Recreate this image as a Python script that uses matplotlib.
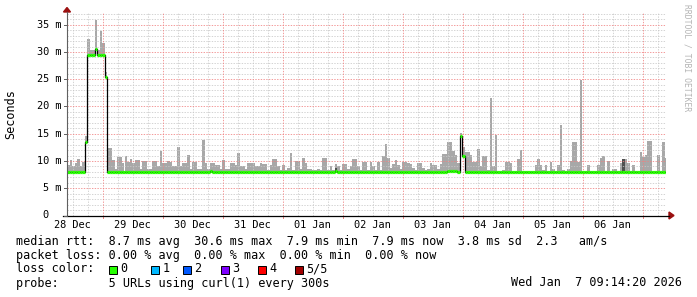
import numpy as np
import matplotlib
matplotlib.use("Agg")
import matplotlib.pyplot as plt
from matplotlib.patches import Polygon, Rectangle
from matplotlib.lines import Line2D

W, H = 697, 297

# --- data: hourly samples, first bin starts 28 Dec ~09:48 (hours since 28 Dec 00:00)
t_start = 9.8
day_labels = ["28 Dec", "29 Dec", "30 Dec", "31 Dec", "01 Jan",
              "02 Jan", "03 Jan", "04 Jan", "05 Jan", "06 Jan"]
y_ticks = [0, 5, 10, 15, 20, 25, 30, 35]
y_tick_labels = ["0  ", "5 m", "10 m", "15 m", "20 m", "25 m", "30 m", "35 m"]

# median rtt per hour (ms)
median_rtt = [
    7.9, 7.9, 7.9, 7.9, 7.9, 7.9, 7.9, 13.5, 29.4, 29.4, 29.4, 30.6, 29.4, 29.4, 29.4, 25.5, 7.9, 7.9, 7.9, 7.9,
    7.9, 7.9, 7.9, 8.0, 7.9, 7.9, 7.9, 7.9, 8.0, 7.9, 7.9, 7.9, 7.9, 7.9, 7.9, 7.9, 7.9, 8.0, 7.9, 7.9,
    7.9, 7.9, 7.9, 7.9, 7.9, 7.9, 7.9, 7.9, 7.9, 7.9, 7.9, 7.9, 8.0, 7.9, 7.9, 7.9, 8.0, 8.1, 7.9, 7.9,
    7.9, 8.0, 7.9, 7.9, 7.9, 7.9, 7.9, 7.9, 8.0, 7.9, 7.9, 7.9, 7.9, 7.9, 8.0, 8.0, 7.9, 7.9, 7.9, 7.9,
    7.9, 7.9, 8.0, 7.9, 7.9, 7.9, 7.9, 8.0, 7.9, 7.9, 7.9, 7.9, 7.9, 7.9, 7.9, 7.9, 8.0, 7.9, 7.9, 7.9,
    7.9, 7.9, 7.9, 7.9, 7.9, 7.9, 8.0, 8.1, 7.9, 7.9, 7.9, 7.9, 7.9, 7.9, 8.0, 7.9, 7.9, 7.9, 7.9, 7.9,
    8.0, 7.9, 7.9, 7.9, 7.9, 7.9, 7.9, 8.0, 8.0, 7.9, 7.9, 7.9, 7.9, 7.9, 8.0, 8.0, 7.9, 7.9, 7.9, 7.9,
    7.9, 7.9, 7.9, 7.9, 8.0, 7.9, 7.9, 7.9, 7.9, 8.0, 8.0, 8.0, 8.1, 8.2, 8.2, 8.1, 7.9, 14.5, 11.0, 7.9,
    7.9, 7.9, 7.9, 7.9, 7.9, 8.0, 7.9, 7.9, 7.9, 7.9, 8.0, 7.9, 7.9, 7.9, 7.9, 7.9, 7.9, 8.0, 7.9, 7.9,
    7.9, 7.9, 7.9, 7.9, 7.9, 7.9, 7.9, 7.9, 8.0, 7.9, 7.9, 7.9, 7.9, 7.9, 7.9, 7.9, 7.9, 8.0, 7.9, 7.9,
    7.9, 7.9, 7.9, 8.0, 7.9, 7.9, 7.9, 7.9, 7.9, 7.9, 7.9, 7.9, 7.9, 7.9, 8.0, 7.9, 7.9, 7.9, 7.9, 7.9,
    7.9, 7.9, 8.0, 8.0, 7.9, 7.9, 7.9, 7.9, 7.9, 7.9, 7.9, 7.9, 7.9, 7.9, 7.9, 7.9, 7.9, 7.9, 7.9, 7.9,
]

# top of the smoke (max ping) per hour (ms)
smoke_max = [
    9.2, 10.2, 9.0, 9.6, 10.3, 9.0, 9.8, 14.6, 32.4, 30.4, 30.4, 35.9, 30.4, 33.9, 31.7, 26.3, 12.3, 12.3, 10.2, 8.6,
    10.8, 10.8, 9.6, 10.9, 9.9, 10.3, 9.7, 10.1, 10.1, 8.5, 10.0, 10.0, 8.5, 8.5, 10.0, 10.0, 9.0, 11.9, 9.7, 9.7,
    10.0, 9.8, 9.0, 9.0, 12.6, 9.0, 9.6, 9.6, 11.1, 8.5, 9.9, 9.9, 8.5, 8.5, 13.9, 9.7, 8.5, 9.6, 9.6, 9.3,
    9.3, 8.5, 10.1, 8.5, 8.5, 9.6, 9.6, 9.3, 11.4, 9.0, 9.0, 8.5, 9.6, 9.6, 9.6, 9.0, 9.0, 9.7, 9.4, 9.4,
    8.4, 9.2, 10.3, 10.3, 9.0, 8.4, 9.3, 8.4, 8.7, 11.5, 8.4, 10.0, 10.0, 8.5, 10.5, 9.7, 8.5, 8.5, 8.4, 8.4,
    8.5, 8.3, 10.6, 10.6, 8.4, 9.1, 8.4, 9.4, 9.0, 8.4, 9.4, 9.4, 8.5, 9.0, 10.3, 10.3, 9.0, 8.4, 9.9, 9.9,
    8.4, 9.9, 9.0, 8.4, 9.8, 8.4, 11.0, 13.1, 10.5, 8.7, 9.4, 10.2, 9.3, 8.5, 9.9, 9.8, 9.6, 9.4, 8.7, 8.4,
    9.7, 9.6, 8.7, 8.4, 8.6, 9.6, 9.3, 9.3, 8.5, 9.4, 11.3, 11.3, 13.4, 13.4, 11.8, 11.1, 9.6, 15.1, 12.6, 11.7,
    11.7, 11.1, 9.9, 9.9, 12.2, 9.0, 10.9, 10.9, 8.3, 21.6, 9.0, 14.8, 8.2, 8.2, 8.4, 9.9, 9.9, 9.6, 8.2, 8.2,
    10.3, 12.0, 8.2, 8.2, 8.2, 8.2, 8.2, 9.2, 10.3, 9.2, 8.3, 9.2, 8.2, 9.9, 8.6, 8.2, 9.3, 16.6, 8.3, 8.1,
    8.5, 10.0, 13.5, 13.5, 9.9, 24.9, 8.2, 8.2, 9.3, 8.2, 8.1, 8.2, 9.3, 10.6, 10.9, 8.1, 10.0, 8.1, 8.5, 8.5,
    8.2, 9.6, 10.3, 10.3, 9.6, 8.1, 9.2, 8.2, 8.2, 11.7, 10.8, 11.1, 13.7, 13.7, 8.2, 8.1, 11.1, 8.2, 13.4, 10.6,
]

# hours where the inner smoke is darker
dark_hours = [107, 222]
dark_top = [8.7, 10.3]

loss_labels = ["0", "1", "2", "3", "4", "5/5"]
loss_colors = ["#26ff00", "#00b8ff", "#0059ff", "#7e00ff", "#ff0000", "#a10000"]

stats_line = "median rtt:  8.7 ms avg  30.6 ms max  7.9 ms min  7.9 ms now  3.8 ms sd  2.3   am/s"
loss_line = "packet loss: 0.00 % avg  0.00 % max  0.00 % min  0.00 % now"
probe_line = "probe:       5 URLs using curl(1) every 300s"
stamp = "Wed Jan  7 09:14:20 2026"

MONO = "DejaVu Sans Mono"


def fx(x):
    return x / W


def fy(y):
    return 1 - y / H


fig = plt.figure(figsize=(W / 100, H / 100), dpi=100)
fig.patch.set_facecolor("white")
ax = fig.add_axes([fx(67), 81.5 / H, 599 / W, 202.5 / H])
n = len(median_rtt)
edges = t_start + np.arange(n + 1)
ax.set_xlim(t_start, t_start + 239.6)
ax.set_ylim(0, 37.15)
ax.set_axis_off()

med = np.array(median_rtt)
top = np.array(smoke_max)

# smoke
ax.bar(edges[:-1], top - med, bottom=med, width=1.0, align="edge",
       color="#a8a8a8", linewidth=0, zorder=2)
ax.bar(edges[dark_hours], np.array(dark_top) - med[dark_hours], bottom=med[dark_hours],
       width=1.0, align="edge", color="#505050", linewidth=0, zorder=2.5)

# grid
grid_dash = (0, (1.4, 1.4))
for v in range(1, 38):
    if v % 5:
        ax.axhline(v, color="#c8c8c8", lw=0.7, ls=grid_dash, alpha=0.8, zorder=3)
for h in np.arange(0, 252, 6):
    if h % 24:
        ax.axvline(h, color="#c8c8c8", lw=0.7, ls=grid_dash, alpha=0.8, zorder=3)
for v in y_ticks[1:]:
    ax.axhline(v, color="#f08080", lw=0.7, ls=grid_dash, alpha=0.8, zorder=3)
for h in np.arange(24, 252, 24):
    ax.axvline(h, color="#f08080", lw=0.7, ls=grid_dash, alpha=0.8, zorder=3)

# median line
ax.step(edges, np.append(med, med[-1]), where="post", color="black", lw=0.9, zorder=4)
ax.hlines(med, edges[:-1], edges[1:], color=loss_colors[0], lw=2.3, zorder=5)

# axes lines and arrows
fig.add_artist(Line2D([fx(67), fx(67)], [fy(215.5), fy(12)], color="#606060", lw=0.8))
fig.add_artist(Line2D([fx(63), fx(669)], [fy(215.5), fy(215.5)], color="black", lw=0.9))
fig.add_artist(Polygon([(fx(63.5), fy(12)), (fx(70.5), fy(12)), (fx(67), fy(7.5))],
                       closed=True, color="#9b1010", transform=fig.transFigure))
fig.add_artist(Polygon([(fx(669), fy(212)), (fx(669), fy(219)), (fx(674), fy(215.5))],
                       closed=True, color="#9b1010", transform=fig.transFigure))

# y labels and ticks
for v, lab in zip(y_ticks, y_tick_labels):
    yp = 215.5 - v * (202.5 / 37.15)
    fig.text(fx(61), fy(yp), lab, ha="right", va="center", family=MONO, fontsize=7.4)
    fig.add_artist(Line2D([fx(64), fx(67)], [fy(yp), fy(yp)], color="#606060", lw=0.7))

# x labels at noon, ticks at midnight
for k, lab in enumerate(day_labels):
    ax.text(12 + 24 * k, -1.75, lab, ha="center", va="center", family=MONO,
            fontsize=7.4, clip_on=False)
for h in np.arange(24, 252, 24):
    ax.plot([h, h], [0, -0.5], color="#f08080", lw=0.7, clip_on=False, zorder=3)

fig.text(fx(11), fy(114), "Seconds", rotation=90, ha="center", va="center",
         family=MONO, fontsize=8.5)
fig.text(fx(687), fy(4), "RRDTOOL / TOBI OETIKER", rotation=270, ha="center", va="top",
         family=MONO, fontsize=5.8, color="#b4b4b4")

# legend
fig.text(fx(16), fy(241), stats_line, ha="left", va="center", family=MONO, fontsize=8.5)
fig.text(fx(16), fy(255), loss_line, ha="left", va="center", family=MONO, fontsize=8.5)
fig.text(fx(16), fy(269), "loss color:", ha="left", va="center", family=MONO, fontsize=8.5)
box_x = [108.5, 151, 183, 220.5, 257.6, 294.6]
for bx, lab, col in zip(box_x, loss_labels, loss_colors):
    fig.add_artist(Rectangle((fx(bx), fy(273.5)), 8 / W, 8 / H, facecolor=col,
                             edgecolor="black", lw=0.7, transform=fig.transFigure))
    fig.text(fx(bx + 11.5), fy(269), lab, ha="left", va="center", family=MONO, fontsize=8.5)
fig.text(fx(16), fy(283), probe_line, ha="left", va="center", family=MONO, fontsize=8.5)
fig.text(fx(682), fy(283), stamp, ha="right", va="center", family=MONO, fontsize=8.5)

fig.savefig("out.png", dpi=100)
